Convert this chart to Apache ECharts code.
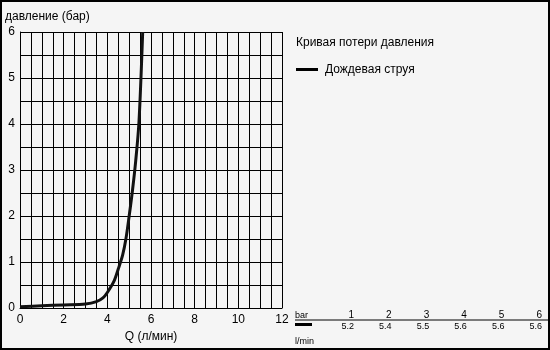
<!DOCTYPE html>
<html><head><meta charset="utf-8">
<script src="https://cdn.jsdelivr.net/npm/echarts@6/dist/echarts.min.js"></script>
<style>html,body{margin:0;padding:0;background:#fff}#c{width:550px;height:350px;box-sizing:border-box;border:2px solid #000;background:#f5f5f5}</style>
</head><body><div id="c"></div>
<script>
const flowQ = [0, 1, 2, 3, 3.5, 3.8, 4.0, 4.3, 4.5, 4.7, 4.85, 5.0, 5.15, 5.3, 5.45, 5.62];
const pressure = [0.03, 0.05, 0.07, 0.09, 0.14, 0.22, 0.34, 0.58, 0.85, 1.15, 1.5, 2.0, 2.55, 3.2, 4.05, 6.0];
const tableBar = ['1', '2', '3', '4', '5', '6'];
const tableFlow = ['5.2', '5.4', '5.5', '5.6', '5.6', '5.6'];
const seriesName = 'Дождевая струя';
const chartTitle = 'Кривая потери давления';
const yTitle = 'давление (бар)';
const xTitle = 'Q (л/мин)';

const chart = echarts.init(document.getElementById('c'));
const F = 'Liberation Sans, Arial, sans-serif';
const gfx = [
  {type:'text', left:3, top:9, style:{text:yTitle, font:'12px '+F, fill:'#000'}},
  {type:'text', left:294, top:35, style:{text:chartTitle, font:'12px '+F, fill:'#000'}},
  {type:'rect', shape:{x:294, y:66, width:22, height:3}, style:{fill:'#000'}},
  {type:'text', left:323, top:62, style:{text:seriesName, font:'12px '+F, fill:'#000'}},
  {type:'text', left:293, top:309, style:{text:'bar', font:'9px '+F, fill:'#000'}},
  {type:'line', shape:{x1:293, y1:318, x2:546, y2:318}, style:{stroke:'#000', lineWidth:1}},
  {type:'rect', shape:{x:293, y:321, width:17, height:3}, style:{fill:'#000'}},
  {type:'text', left:293, top:335, style:{text:'l/min', font:'9px '+F, fill:'#000'}}
];
tableBar.forEach((t, i) => {
  gfx.push({type:'text', x:352 + i*37.6, y:308, style:{text:t, font:'10px '+F, fill:'#000', align:'right'}});
});
tableFlow.forEach((t, i) => {
  gfx.push({type:'text', x:352 + i*37.6, y:320, style:{text:t, font:'9px '+F, fill:'#000', align:'right'}});
});

chart.setOption({
  animation:false,
  backgroundColor:'transparent',
  grid:{left:18, top:30, width:262, height:281},
  xAxis:{type:'value', min:0, max:12, interval:0.5,
    name:xTitle, nameLocation:'middle', nameGap:20,
    nameTextStyle:{fontFamily:F, fontSize:12, color:'#000'},
    axisLine:{lineStyle:{color:'#000', width:1}},
    axisTick:{show:false},
    axisLabel:{fontFamily:F, fontSize:12, color:'#000', margin:6,
      formatter:v => (Math.abs(v % 2) < 1e-9 ? String(v) : '')},
    splitLine:{show:true, lineStyle:{color:'#000', width:1}}},
  yAxis:{type:'value', min:0, max:6, interval:0.5,
    axisLine:{show:true, lineStyle:{color:'#000', width:1}},
    axisTick:{show:false},
    axisLabel:{fontFamily:F, fontSize:12, color:'#000', margin:5,
      formatter:v => (Math.abs(v % 1) < 1e-9 ? String(v) : '')},
    splitLine:{show:true, lineStyle:{color:'#000', width:1}}},
  series:[{type:'line', name:seriesName, data:flowQ.map((q, i) => [q, pressure[i]]),
    smooth:0.3, showSymbol:false, lineStyle:{color:'#111', width:3}, clip:true}],
  graphic:gfx
});
</script></body></html>
